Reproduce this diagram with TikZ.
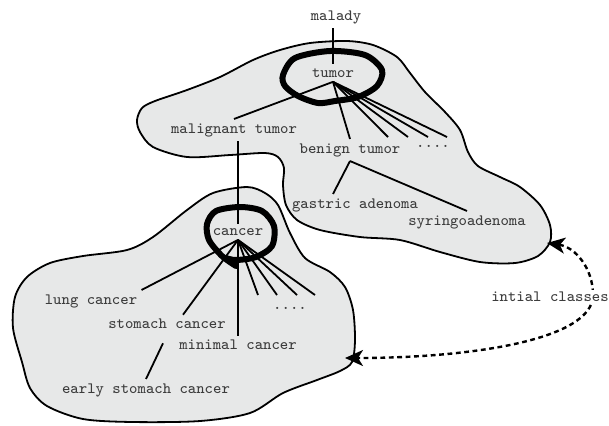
\documentclass[tikz,border=0pt]{standalone}
\usepackage{tikz}
\usetikzlibrary{arrows.meta}
\definecolor{blobfill}{RGB}{231,232,232}
\definecolor{txtgray}{RGB}{60,60,60}

\begin{document}
\begin{tikzpicture}[
  x=0.5pt, y=-0.5pt,
  every node/.style={font=\ttfamily\fontsize{7.9}{9}\selectfont, text=txtgray, inner sep=2pt},
  blob/.style={draw, fill=blobfill, line width=0.9pt},
  ring/.style={draw, line width=3pt, line join=round, line cap=round},
  br/.style={line width=0.9pt},
  link/.style={line width=1.2pt, dash pattern=on 2.4pt off 1.8pt,
    {Stealth[length=9pt,width=8pt,inset=2.5pt]}-{Stealth[length=9pt,width=8pt,inset=2.5pt]}}
]
  \useasboundingbox (0,0) rectangle (609,425);

  % the two classes
  \draw[blob] plot[smooth cycle] coordinates {
    (137,120) (142,108) (155,101) (187,90) (220,77) (253,60) (280,50)
    (310,43) (347,41) (373,45) (397,57) (410,73) (425,92) (445,112)
    (460,130) (468,152) (478,166) (500,177) (520,187) (540,205) (550,225)
    (550,242) (538,256) (515,263) (480,262) (440,252) (400,240) (360,237)
    (320,230) (297,220) (286,205) (283,185) (284,168) (278,157) (265,153)
    (230,155) (187,157) (153,147) (140,132)};
  \draw[blob] plot[smooth cycle] coordinates {
    (247,187) (265,193) (278,205) (290,233) (305,258) (330,272) (345,287)
    (353,310) (355,340) (352,362) (340,371) (317,380) (283,393) (250,413)
    (200,421) (133,422) (83,419) (47,406) (30,388) (22,362) (13,328)
    (15,297) (27,277) (50,263) (83,256) (127,250) (153,237) (187,210)
    (213,193)};

  % rings
  \draw[ring] plot[smooth cycle] coordinates {
    (283,75) (295,58) (330,51) (365,55) (382,70) (377,86) (358,97)
    (335,101) (318,103) (298,96) (285,86)};
  \draw[ring] plot[smooth] coordinates {
    (236,266) (222,256) (209,240) (207,224) (216,211) (240,207) (262,211)
    (274,226) (272,246) (256,257) (236,260) (226,258)};

  \node (malady) at (336,17) {malady};
  \node (tumor) at (333,73) {tumor};
  \node (mal) at (234,130) {malignant tumor};
  \node (benign) at (350,150) {benign tumor};
  \node (tdots) at (433,146) {....};
  \node (gastric) at (355,205) {gastric adenoma};
  \node (syr) at (467,222) {syringoadenoma};
  \node (cancer) at (238,232) {cancer};
  \node (lung) at (91,301) {lung cancer};
  \node (stomach) at (167,324) {stomach cancer};
  \node (minimal) at (238,345) {minimal cancer};
  \node (early) at (146,390) {early stomach cancer};
  \node (cdots) at (290,308) {....};

  \coordinate (t1) at (388,137);
  \coordinate (t2) at (408,137);
  \coordinate (t3) at (428,137);
  \coordinate (t4) at (447,137);
  \coordinate (c1) at (258,295);
  \coordinate (c2) at (277,295);
  \coordinate (c3) at (297,295);
  \coordinate (c4) at (315,295);

  \draw[br] (malady.south -| tumor) -- (tumor.north);
  \draw[br] (tumor.south) -- (mal.north);
  \draw[br] (tumor.south) -- (benign.north);
  \foreach \i in {1,...,4}
    \draw[br] (tumor.south) -- (t\i);
  \draw[br] (benign.south) -- ([xshift=-11pt]gastric.north);
  \draw[br] (benign.south) -- (syr.north);
  \draw[br] (mal.south -| cancer) -- (cancer.north);
  \draw[br] (cancer.south) -- (lung.north east);
  \draw[br] (cancer.south) -- ([xshift=8pt]stomach.north);
  \draw[br] (cancer.south) -- (minimal.north);
  \foreach \i in {1,...,4}
    \draw[br] (cancer.south) -- (c\i);
  \draw[br] ([xshift=-2pt,yshift=-5pt]stomach.south) -- (early.north);

  % link between the initial classes
  \coordinate (ta) at (547,243);
  \coordinate (tb) at (345,358);
  \draw[link] (ta) .. controls (575,247) and (593,268) .. (593,295)
    .. controls (593,340) and (470,358) .. (tb);
  \node[fill=white, inner sep=1pt] (classes) at (550,297) {intial classes};
\end{tikzpicture}
\end{document}
